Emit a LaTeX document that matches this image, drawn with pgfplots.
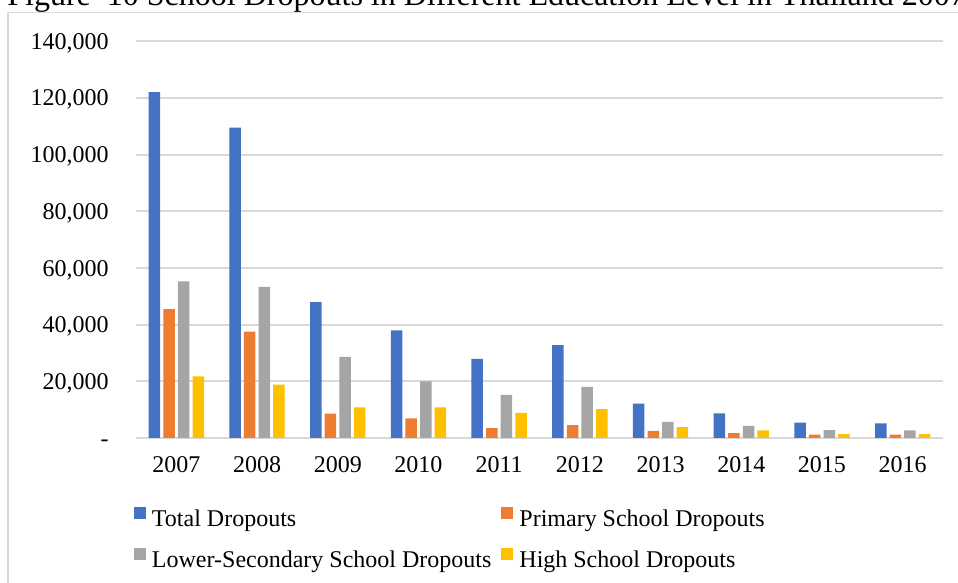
\documentclass[border=0pt]{standalone}
\usepackage{fontspec}
\setmainfont{Liberation Serif}
\usepackage{pgfplots}
\pgfplotsset{compat=1.18}

\definecolor{cTotal}{HTML}{4472C4}
\definecolor{cPrimary}{HTML}{ED7D31}
\definecolor{cLower}{HTML}{A5A5A5}
\definecolor{cHigh}{HTML}{FFC000}
\definecolor{gridgray}{HTML}{D9D9D9}

\begin{document}
\begin{tikzpicture}
% outer frame of the chart area
\draw[gridgray, line width=0.75pt] (4pt,-20pt) rectangle (520pt,285.35pt);
% figure caption
\node[anchor=base west, inner sep=0pt, font=\fontsize{16}{19}\selectfont]
  at (3.5pt,288.5pt) {Figure\ \ 10 School Dropouts in Different Education Level in Thailand 2007};

\begin{axis}[
  at={(68pt,72.5pt)}, anchor=south west,
  scale only axis, width=403.5pt, height=198.4pt,
  xmin=-0.5, xmax=9.5, ymin=0, ymax=140000,
  scaled y ticks=false,
  xtick={0,...,9},
  xticklabels={2007,2008,2009,2010,2011,2012,2013,2014,2015,2016},
  ytick={0,20000,40000,60000,80000,100000,120000,140000},
  yticklabels={{-\hspace{6.5pt}},{20,000},{40,000},{60,000},{80,000},{100,000},{120,000},{140,000}},
  axis line style={draw=none},
  major tick length=0pt,
  ymajorgrids,
  major grid style={gridgray, line width=1pt},
  tick label style={font=\fontsize{12}{14}\selectfont},
  xticklabel style={inner sep=0pt, anchor=north, yshift=-9.3pt},
  yticklabel style={inner sep=0pt, anchor=east, xshift=-13.5pt, text height=8.1pt, text depth=0pt},
  ybar, bar width=0.1425,
  legend columns=2,
  legend cell align=left,
  legend image code/.code={\fill[#1] (0pt,0.75pt) rectangle (6pt,6.75pt);},
  legend style={
    at={(axis description cs:-0.0025,-0.1739)}, anchor=north west,
    draw=none, fill=none, inner sep=0pt, outer sep=0pt,
    font=\fontsize{12}{14}\selectfont,
    nodes={inner sep=0pt, text height=8.5pt, text depth=2.5pt},
    row sep=8pt,
    /tikz/every odd column/.append style={column sep=3pt},
    /tikz/every even column/.append style={column sep=5pt},
  },
]
\addplot[fill=cTotal, draw=none, bar shift=-0.2715] coordinates {
  (0,122000) (1,109500) (2,47900) (3,38000) (4,27900)
  (5,32800) (6,12100) (7,8700) (8,5400) (9,5200)};
\addplot[fill=cPrimary, draw=none, bar shift=-0.0905] coordinates {
  (0,45500) (1,37500) (2,8600) (3,6900) (4,3500)
  (5,4500) (6,2500) (7,1700) (8,1200) (9,1200)};
\addplot[fill=cLower, draw=none, bar shift=0.0905] coordinates {
  (0,55300) (1,53300) (2,28600) (3,20000) (4,15200)
  (5,18000) (6,5700) (7,4300) (8,2800) (9,2700)};
\addplot[fill=cHigh, draw=none, bar shift=0.2715] coordinates {
  (0,21700) (1,18800) (2,10800) (3,10800) (4,8900)
  (5,10200) (6,3800) (7,2700) (8,1400) (9,1400)};
\legend{Total Dropouts, Primary School Dropouts, Lower-Secondary School Dropouts, High School Dropouts}
\end{axis}

\pgfresetboundingbox
\useasboundingbox (0pt,0pt) rectangle (479pt,291.5pt);
\end{tikzpicture}
\end{document}
